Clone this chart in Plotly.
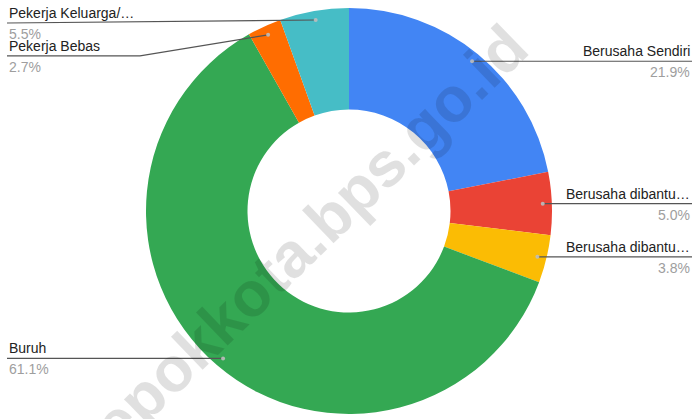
import math
import plotly.graph_objects as go

# ---- data ----
categories = ["Berusaha Sendiri", "Berusaha dibantu buruh tidak tetap",
              "Berusaha dibantu buruh tetap", "Buruh", "Pekerja Bebas",
              "Pekerja Keluarga/Tidak Dibayar"]
short_labels = ["Berusaha Sendiri", "Berusaha dibantu…", "Berusaha dibantu…",
                "Buruh", "Pekerja Bebas", "Pekerja Keluarga/…"]
values = [21.9, 5.0, 3.8, 61.1, 2.7, 5.5]
colors = ["#4285F4", "#EA4335", "#FBBC04", "#34A853", "#FF6D01", "#46BDC6"]
watermark = "depokkota.bps.go.id"

W, H = 696, 419
CX, CY, R = 349, 211, 203   # pie centre / radius in pixels (layout)

fig = go.Figure()
fig.add_trace(go.Pie(
    labels=categories, values=values, hole=0.5, sort=False,
    direction="clockwise", rotation=0,
    marker=dict(colors=colors, line=dict(width=0)),
    textinfo="none", hoverinfo="label+percent", showlegend=False,
    domain=dict(x=[(CX - R) / W, (CX + R) / W],
                y=[(H - CY - R) / H, (H - CY + R) / H]),
))

# label side / label-line y offsets for collision avoidance (layout only)
side = ["right", "right", "right", "left", "left", "left"]
label_dy = [0, 0, 0, 0, 21, 3]   # extra vertical displacement of the label line

shapes, annotations = [], []
total = sum(values)
cum = 0
for i, v in enumerate(values):
    mid = (cum + v / 2) / total
    cum += v
    ang = 2 * math.pi * mid
    px = CX + 0.955 * R * math.sin(ang)
    py = CY - 0.955 * R * math.cos(ang)
    ly = py + label_dy[i]
    pct = f"{v / total * 100:.1f}%"
    if side[i] == "right":
        xe = 692
        path = f"M {px} {py} L {xe} {ly}"
        ax, anchor = 692, "right"
    else:
        xe = 7
        if label_dy[i] > 10:
            path = f"M {px} {py} L 140 {ly} L {xe} {ly}"
        else:
            path = f"M {px} {py} L {xe} {ly}"
        ax, anchor = 7, "left"
    shapes.append(dict(type="path", path=path, xref="x", yref="y",
                       line=dict(color="#555555", width=1.2), layer="above"))
    shapes.append(dict(type="circle", xref="x", yref="y",
                       x0=px - 2, x1=px + 2, y0=py - 2, y1=py + 2,
                       fillcolor="rgba(190,190,190,0.9)", line=dict(width=0),
                       layer="above"))
    annotations.append(dict(x=ax, y=ly - 10, xref="x", yref="y",
                            text=short_labels[i], showarrow=False,
                            xanchor=anchor, yanchor="middle",
                            font=dict(family="Liberation Sans, Arial", size=14,
                                      color="#222222")))
    annotations.append(dict(x=ax, y=ly + 11, xref="x", yref="y",
                            text=pct, showarrow=False,
                            xanchor=anchor, yanchor="middle",
                            font=dict(family="Liberation Sans, Arial", size=14,
                                      color="#9e9e9e")))

annotations.append(dict(x=296, y=249, xref="x", yref="y", text=f"<b>{watermark}</b>",
                        showarrow=False, textangle=-44,
                        xanchor="center", yanchor="middle",
                        font=dict(family="Liberation Sans, Arial", size=63,
                                  color="rgba(0,0,0,0.12)")))

fig.update_layout(
    width=W, height=H, margin=dict(l=0, r=0, t=0, b=0),
    paper_bgcolor="white", plot_bgcolor="rgba(0,0,0,0)",
    xaxis=dict(range=[0, W], visible=False, fixedrange=True),
    yaxis=dict(range=[H, 0], visible=False, fixedrange=True),
    shapes=shapes, annotations=annotations,
)
fig.write_html("out.html", config={"displayModeBar": False},
               post_script="document.body.style.margin='0px';document.body.style.overflow='hidden';")
